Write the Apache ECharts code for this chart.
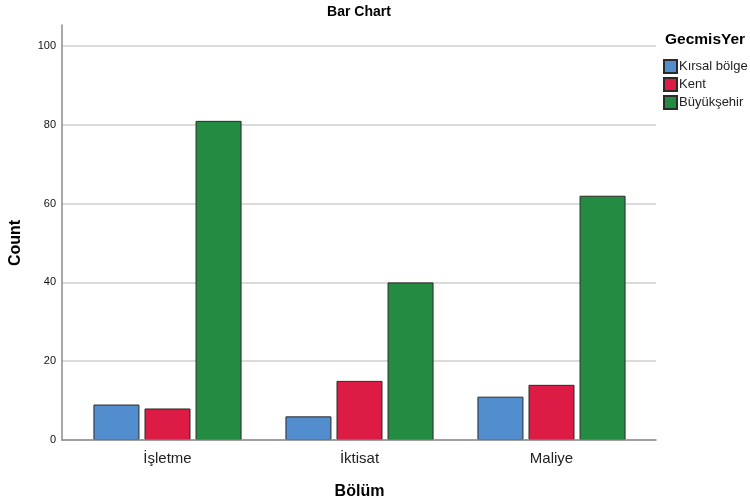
<!DOCTYPE html>
<html><head><meta charset="utf-8">
<script src="https://cdn.jsdelivr.net/npm/echarts@6/dist/echarts.min.js"></script>
<style>html,body{margin:0;padding:0;background:#fff}#c{width:750px;height:502px}</style>
</head><body><div id="c"></div>
<script>
const categories = ['İşletme', 'İktisat', 'Maliye'];
const seriesNames = ['Kırsal bölge', 'Kent', 'Büyükşehir'];
const kirsal = [9, 6, 11];
const kent = [8, 15, 14];
const buyuksehir = [81, 40, 62];
const yTicks = [0, 20, 40, 60, 80, 100];
const colors = ['#528dcd', '#dc1c44', '#248b43'];
const FONT = 'Liberation Sans, Arial, sans-serif';

const chart = echarts.init(document.getElementById('c'));
const barStyle = (c) => ({ color: c, borderColor: '#2a2a2a', borderWidth: 1 });
chart.setOption({
  animation: false,
  textStyle: { fontFamily: FONT },
  title: [
    { text: 'Bar Chart', left: 359, top: 5, padding: 0, textAlign: 'center',
      textStyle: { fontSize: 14, fontWeight: 'bold', color: '#000', fontFamily: FONT } },
    { text: 'GecmisYer', left: 665, top: 32, padding: 0,
      textStyle: { fontSize: 15.5, fontWeight: 'bold', color: '#000', fontFamily: FONT } }
  ],
  legend: {
    orient: 'vertical', left: 663, top: 59, padding: 0, itemWidth: 13, itemHeight: 13, itemGap: 3,
    icon: 'rect', data: seriesNames,
    textStyle: { fontSize: 13, color: '#222', fontFamily: FONT, padding: [0, 0, 0, -3] }
  },
  grid: [
    { left: 62, right: 94, top: 46, bottom: 62, outerBoundsMode: 'none' },
    { left: 62, right: 94, top: 25, bottom: 62, outerBoundsMode: 'none' },
    { left: 71.5, width: 576, top: 46, bottom: 62, outerBoundsMode: 'none' }
  ],
  xAxis: [
    { gridIndex: 0, type: 'value', min: 0, max: 1, show: true, z: 5,
      axisLine: { show: true, lineStyle: { color: '#8c8c8c', width: 1.5 } },
      axisLabel: { show: false }, axisTick: { show: false }, splitLine: { show: false } },
    { gridIndex: 1, type: 'value', min: 0, max: 1, show: false },
    { gridIndex: 2, type: 'category', data: categories,
      axisLine: { show: false }, axisTick: { show: false },
      axisLabel: { fontSize: 15, color: '#222', margin: 11, fontFamily: FONT },
      name: 'Bölüm', nameLocation: 'middle', nameGap: 44,
      nameTextStyle: { fontSize: 16, fontWeight: 'bold', color: '#000', fontFamily: FONT } }
  ],
  yAxis: [
    { gridIndex: 0, type: 'value', min: yTicks[0], max: yTicks[yTicks.length - 1], interval: 20,
      axisLine: { show: false }, axisTick: { show: false },
      axisLabel: { fontSize: 11, color: '#111', margin: 6, fontFamily: FONT },
      splitLine: { show: true, lineStyle: { color: '#cfcfcf', width: 1.5 } },
      name: 'Count', nameLocation: 'middle', nameGap: 38,
      nameTextStyle: { fontSize: 16, fontWeight: 'bold', color: '#000', fontFamily: FONT } },
    { gridIndex: 1, type: 'value', min: 0, max: 1,
      axisLine: { show: true, lineStyle: { color: '#8c8c8c', width: 1.5 } },
      axisTick: { show: false }, axisLabel: { show: false }, splitLine: { show: false } },
    { gridIndex: 2, type: 'value', min: 0, max: 100, show: false }
  ],
  series: [
    { name: seriesNames[0], type: 'bar', xAxisIndex: 2, yAxisIndex: 2, data: kirsal,
      barWidth: 46, barGap: '11%', itemStyle: barStyle(colors[0]) },
    { name: seriesNames[1], type: 'bar', xAxisIndex: 2, yAxisIndex: 2, data: kent,
      barWidth: 46, barGap: '11%', itemStyle: barStyle(colors[1]) },
    { name: seriesNames[2], type: 'bar', xAxisIndex: 2, yAxisIndex: 2, data: buyuksehir,
      barWidth: 46, barGap: '11%', itemStyle: barStyle(colors[2]) }
  ]
});
</script></body></html>
